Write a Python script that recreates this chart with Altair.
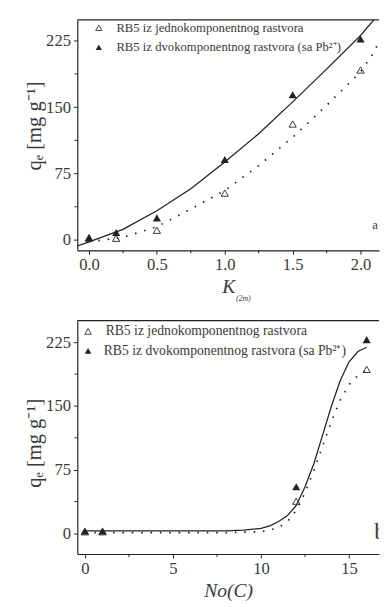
import altair as alt
import pandas as pd

# ---------------- panel a data ----------------
a_x = [0.0, 0.2, 0.5, 1.0, 1.5, 2.0]
a_single = [2, 2, 11, 53, 131, 192]
a_binary = [3, 8.5, 25, 91, 164, 227]
a_fit_binary_x = [-0.09, 0.0, 0.25, 0.5, 0.75, 1.0, 1.25, 1.5, 1.75, 2.0, 2.1]
a_fit_binary_y = [-7, -2, 12, 33, 58, 88, 120, 156, 193, 231, 249]
a_fit_single_x = [0.0, 0.25, 0.5, 0.75, 1.0, 1.25, 1.5, 1.75, 2.0, 2.1, 2.15]
a_fit_single_y = [-2, 3, 15, 35, 56, 84, 116, 152, 190, 212, 230]
a_x_ticks = [0.0, 0.5, 1.0, 1.5, 2.0]
a_x_minor = [0.25, 0.75, 1.25, 1.75]

# ---------------- panel b data ----------------
b_x = [0, 1, 12, 16]
b_single = [2, 2, 38, 193]
b_binary = [3, 3, 55, 228]
b_fit_binary_x = [0, 2, 4, 6, 8, 9, 10, 10.5, 11, 11.5, 12, 12.5, 13, 13.5, 14, 14.5, 15, 15.5, 16]
b_fit_binary_y = [3, 3, 3, 3, 3, 4, 6, 9, 14, 21, 33, 55, 82, 116, 150, 180, 202, 214, 219]
b_fit_single_x = [0, 2, 4, 6, 8, 9, 10, 10.5, 11, 11.5, 12, 12.5, 13, 13.5, 14, 14.5, 15, 15.5, 16]
b_fit_single_y = [1, 1, 1, 1, 1, 1.5, 2, 4, 7, 14, 27, 48, 74, 103, 132, 157, 175, 186, 192]
b_x_ticks = [0, 5, 10, 15]
b_x_minor = [2.5, 7.5, 12.5]

y_ticks = [0, 75, 150, 225]
y_minor = [37.5, 112.5, 187.5]

legend_labels = ["RB5 iz jednokomponentnog rastvora",
                 "RB5 iz dvokomponentnog rastvora (sa Pb²⁺)"]
y_title = "qₑ [mg g⁻¹]"

INK = "#222222"
TXT = "#3a3a3a"
FONT = "Liberation Serif"
W = 309


def panel(px, single, binary, fbx, fby, fsx, fsy, xdom, ydom, xticks, xminor,
          xfmt, xtitle, H, leg, tag, ytitle_y):
    xs = alt.Scale(domain=xdom, nice=False, zero=False)
    ys = alt.Scale(domain=ydom, nice=False, zero=False)
    xaxis = alt.Axis(values=xticks, format=xfmt, title=xtitle, titleFontStyle="italic",
                     titleFontSize=20, titlePadding=4, labelFont=FONT, titleFont=FONT)
    yaxis = alt.Axis(values=y_ticks, format="d", title=y_title, titleFontSize=21,
                     titlePadding=1, labelFont=FONT, titleFont=FONT, titleY=ytitle_y)

    def X(f):
        return alt.X(f, type="quantitative", scale=xs, axis=xaxis)

    def Y(f):
        return alt.Y(f, type="quantitative", scale=ys, axis=yaxis)

    pts = pd.DataFrame({"x": px, "single": single, "binary": binary})
    fb = pd.DataFrame({"x": fbx, "y": fby})
    fs = pd.DataFrame({"x": fsx, "y": fsy})

    solid = alt.Chart(fb).mark_line(color=INK, strokeWidth=1.3, clip=True).encode(
        x=X("x"), y=Y("y"))
    dotted = alt.Chart(fs).mark_line(color=INK, strokeWidth=1.7, strokeDash=[1.6, 8],
                                     clip=True).encode(x=X("x"), y=Y("y"))
    open_pts = alt.Chart(pts).mark_point(shape="triangle-up", filled=False, stroke="#333",
                                         strokeWidth=1, size=55, opacity=1).encode(
        x=X("x"), y=Y("single"))
    fill_pts = alt.Chart(pts).mark_point(shape="triangle-up", filled=True, color=INK,
                                         size=70, opacity=1).encode(
        x=X("x"), y=Y("binary"))

    one = pd.DataFrame({"d": [0]})
    top = alt.Chart(one).mark_rule(color=INK, strokeWidth=1.2).encode(
        x=alt.value(0), x2=alt.value(W), y=alt.value(0))
    xm = alt.Chart(pd.DataFrame({"v": xminor})).mark_rule(color=INK, strokeWidth=1).encode(
        x=X("v"), y=alt.value(H), y2=alt.value(H + 3))
    ym = alt.Chart(pd.DataFrame({"v": y_minor})).mark_rule(color=INK, strokeWidth=1).encode(
        y=Y("v"), x=alt.value(-3), x2=alt.value(0))

    sx, sy1, sy2, tx1, tx2, fsz, lsize = leg
    l1 = alt.Chart(one).mark_point(shape="triangle-up", filled=False, stroke="#444",
                                   strokeWidth=1, size=lsize, opacity=1).encode(
        x=alt.value(sx), y=alt.value(sy1))
    l2 = alt.Chart(one).mark_point(shape="triangle-up", filled=True, color=INK,
                                   size=lsize, opacity=1).encode(
        x=alt.value(sx), y=alt.value(sy2))
    t1 = alt.Chart(pd.DataFrame({"t": [legend_labels[0]]})).mark_text(
        align="left", baseline="middle", font=FONT, fontSize=fsz, color=TXT).encode(
        x=alt.value(tx1), y=alt.value(sy1), text="t:N")
    t2 = alt.Chart(pd.DataFrame({"t": [legend_labels[1]]})).mark_text(
        align="left", baseline="middle", font=FONT, fontSize=fsz, color=TXT).encode(
        x=alt.value(tx2), y=alt.value(sy2), text="t:N")

    tx, ty, tsize = tag[1], tag[2], tag[3]
    tg = alt.Chart(pd.DataFrame({"t": [tag[0]]})).mark_text(
        align="left", baseline="middle", font=FONT, fontSize=tsize, color=TXT,
        clip=True).encode(x=alt.value(tx), y=alt.value(ty), text="t:N")

    layers = [solid, dotted, open_pts, fill_pts, top, xm, ym, l1, l2, t1, t2, tg]
    return layers


la = panel(a_x, a_single, a_binary, a_fit_binary_x, a_fit_binary_y,
           a_fit_single_x, a_fit_single_y, [-0.086, 2.136], [-11.7, 248.5],
           a_x_ticks, a_x_minor, ".1f", "K", 236,
           (22, 8, 28, 40, 40, 13, 40), ("a", 302, 210, 13), 108)
sub = alt.Chart(pd.DataFrame({"t": ["(2m)"]})).mark_text(
    align="left", baseline="middle", font=FONT, fontSize=8, fontStyle="italic",
    color=TXT).encode(x=alt.value(W / 2 + 8), y=alt.value(236 + 50), text="t:N")
pa = alt.layer(*la, sub).properties(width=W, height=236)

lb = panel(b_x, b_single, b_binary, b_fit_binary_x, b_fit_binary_y,
           b_fit_single_x, b_fit_single_y, [-0.43, 16.7], [-24.2, 250.3],
           b_x_ticks, b_x_minor, "d", "No(C)", 239,
           (11, 11, 31, 29, 27, 14, 45), ("b", 304, 217, 24), 125)
pb = alt.layer(*lb).properties(width=W, height=239)

chart = alt.vconcat(pa, pb, spacing=17).properties(
    padding={"left": 16, "top": 4, "right": 0, "bottom": 0}
).configure_view(stroke=None).configure_axis(
    domainColor=INK, domainWidth=1.2, tickColor=INK, tickSize=4, tickWidth=1,
    labelFont=FONT, labelFontSize=17, labelColor=TXT, labelPadding=3,
    titleFont=FONT, titleColor=TXT, titleFontWeight="normal", grid=False
).configure_text(font=FONT)

chart.save("out.html", embed_options={"renderer": "svg", "actions": False})
